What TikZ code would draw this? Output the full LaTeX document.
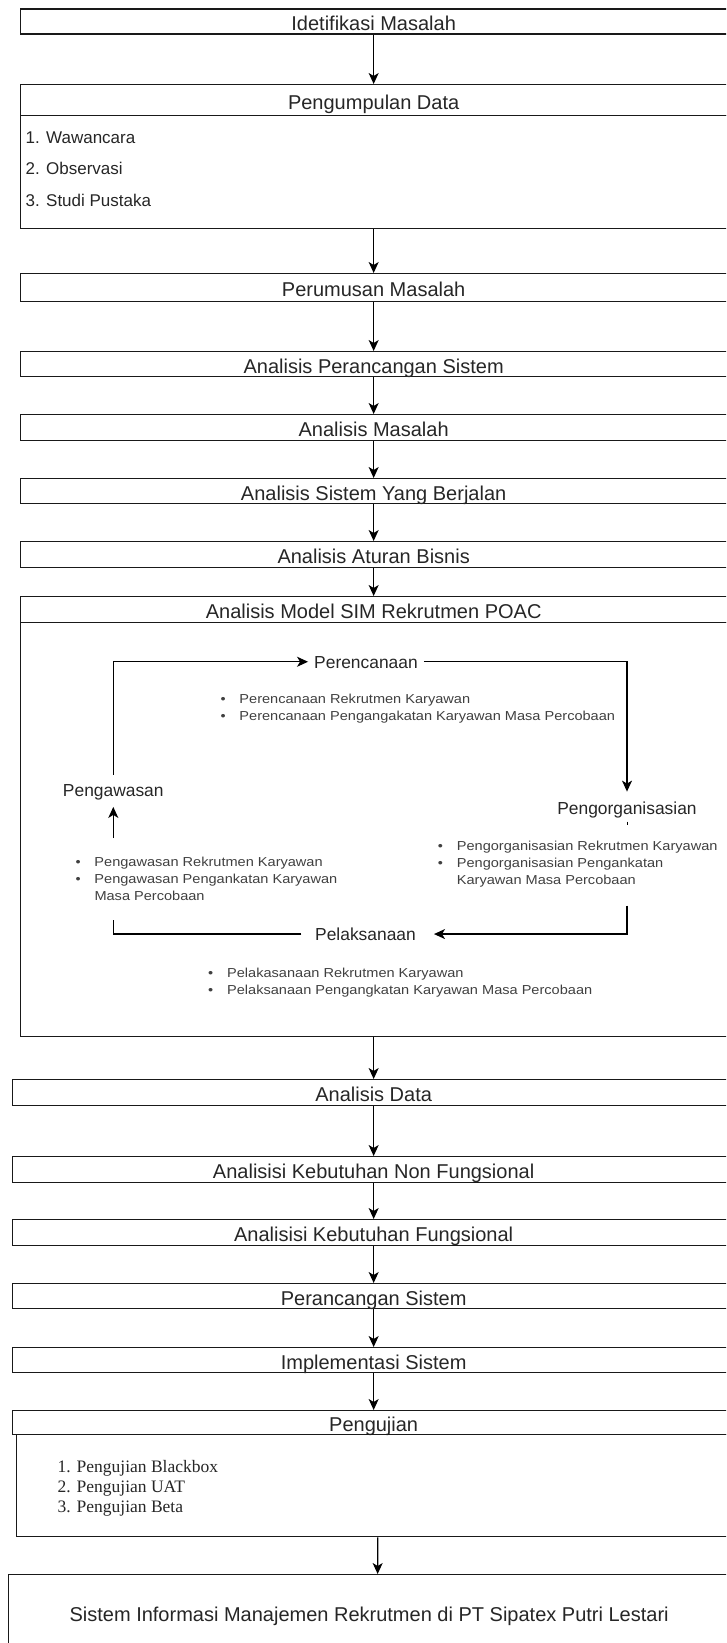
\documentclass[tikz,border=0pt]{standalone}
\usepackage{fontspec}
\setmainfont{Liberation Sans}
\newfontfamily\widesans[FakeStretch=1.12]{Liberation Sans}
\newfontfamily\serifnm{Liberation Serif}
\usetikzlibrary{arrows.meta}
\newcommand\bulitem{\makebox[19pt][l]{•}}
\begin{document}
\begin{tikzpicture}[x=1pt,y=-1pt,
  box/.style={draw=black!90, line width=1.3pt, rectangle, inner sep=0pt, anchor=north west,
    font=\fontsize{20}{24}\selectfont, text=black!85, text height=18pt, text depth=0pt},
  arr/.style={-{Stealth[length=11pt,width=10pt,inset=3pt]}, line width=1.3pt, draw=black},
  ln/.style={line width=1.3pt, draw=black},
  lp/.style={inner sep=0pt, font=\fontsize{17.4}{20}\selectfont, text=black!85, text height=12.5pt, text depth=0pt},
  bul/.style={inner sep=0pt, anchor=base west, font=\widesans\fontsize{13}{17}\selectfont, text=black!75},
  itm/.style={inner sep=0pt, anchor=base west, font=\fontsize{17}{20}\selectfont, text=black!85},
  sitm/.style={inner sep=0pt, anchor=base west, font=\serifnm\fontsize{17.5}{20}\selectfont, text=black!85},
]
\useasboundingbox (0,0) rectangle (727,1643);
\clip (0,0) rectangle (726,1643);

% main column
\node[box, minimum width=707pt, minimum height=25pt] (b1) at (19.5,8.3) {Idetifikasi Masalah};
\node[box, minimum width=707pt, minimum height=31pt] (b2h) at (19.5,84) {Pengumpulan Data};
\node[box, minimum width=707pt, minimum height=113pt] (b2b) at (19.5,115) {};
\node[itm] (i1) at (25.5,143.3) {1. Wawancara};
\node[itm] (i2) at (25.5,174) {2. Observasi};
\node[itm] (i3) at (25.5,206.7) {3. Studi Pustaka};
\node[box, minimum width=707pt, minimum height=28pt] (b3) at (19.5,273) {Perumusan Masalah};
\node[box, minimum width=707pt, minimum height=25pt] (b4) at (19.5,351) {Analisis Perancangan Sistem};
\node[box, minimum width=707pt, minimum height=26pt] (b5) at (19.5,414) {Analisis Masalah};
\node[box, minimum width=707pt, minimum height=25pt] (b6) at (19.5,478) {Analisis Sistem Yang Berjalan};
\node[box, minimum width=707pt, minimum height=26pt] (b7) at (19.5,541) {Analisis Aturan Bisnis};
\node[box, minimum width=707pt, minimum height=26pt] (b8h) at (19.5,596) {Analisis Model SIM Rekrutmen POAC};
\node[box, minimum width=707pt, minimum height=414pt] (b8b) at (19.5,622) {};
\node[box, minimum width=722.8pt, minimum height=26pt] (b9) at (11.6,1079) {Analisis Data};
\node[box, minimum width=722.8pt, minimum height=26pt] (b10) at (11.6,1156) {Analisisi Kebutuhan Non Fungsional};
\node[box, minimum width=722.8pt, minimum height=26pt] (b11) at (11.6,1219) {Analisisi Kebutuhan Fungsional};
\node[box, minimum width=722.8pt, minimum height=25pt] (b12) at (11.6,1283) {Perancangan Sistem};
\node[box, minimum width=722.8pt, minimum height=25pt] (b13) at (11.6,1347) {Implementasi Sistem};
\node[box, minimum width=722pt, minimum height=24pt] (b14h) at (12,1410) {Pengujian};
\node[box, minimum width=714.6pt, minimum height=102pt] (b14b) at (15.7,1434) {};
\node[sitm] (s1) at (57.5,1472.7) {1. Pengujian Blackbox};
\node[sitm] (s2) at (57.5,1492.7) {2. Pengujian UAT};
\node[sitm] (s3) at (57.5,1512.7) {3. Pengujian Beta};
\node[box, minimum width=721.2pt, minimum height=76pt] (fin) at (7.9,1574) {Sistem Informasi Manajemen Rekrutmen di PT Sipatex Putri Lestari};

\draw[arr] (b1.south) -- (b2h.north);
\draw[arr] (b2b.south) -- (b3.north);
\draw[arr] (b3.south) -- (b4.north);
\draw[arr] (b4.south) -- (b5.north);
\draw[arr] (b5.south) -- (b6.north);
\draw[arr] (b6.south) -- (b7.north);
\draw[arr] (b7.south) -- (b8h.north);
\draw[arr] (b8b.south) -- (b9.north);
\draw[arr] (b9.south) -- (b10.north);
\draw[arr] (b10.south) -- (b11.north);
\draw[arr] (b11.south) -- (b12.north);
\draw[arr] (b12.south) -- (b13.north);
\draw[arr] (b13.south) -- (b14h.north);
\draw[arr] ([xshift=4pt]b14b.south) -- ([xshift=8.5pt]fin.north);

% POAC loop
\node[lp, anchor=base] (per) at (366,668) {Perencanaan};
\node[lp, anchor=base] (org) at (627,814.3) {Pengorganisasian};
\node[lp, anchor=base] (pel) at (365.5,940.3) {Pelaksanaan};
\node[lp, anchor=base] (peng) at (113.3,796) {Pengawasan};
\coordinate (orgout) at (627,905.7);
\coordinate (pelend) at (113.3,920);
\coordinate (pengin) at (113.3,838);

\draw[arr] ([yshift=8.5pt]peng.north) |- ([xshift=-6pt]per.west);
\draw[arr] ([xshift=6pt]per.east) -| ([yshift=10pt]org.north);
\draw[line width=0.8pt] ([yshift=-7pt]org.south) -- ([yshift=-10pt]org.south);
\draw[arr] (orgout) |- ([xshift=18pt]pel.east);
\draw[ln] ([xshift=-13.5pt]pel.west) -| (pelend);
\draw[arr] (pengin) -- ([yshift=-10.7pt]peng.south);

\node[bul] (perb) at (220.3,703.3) {\begin{tabular}[t]{@{}l@{}l@{}}
  \bulitem & Perencanaan Rekrutmen Karyawan\\
  \bulitem & Perencanaan Pengangakatan Karyawan Masa Percobaan
\end{tabular}};
\node[bul] (orgb) at (437.7,850.7) {\begin{tabular}[t]{@{}l@{}l@{}}
  \bulitem & Pengorganisasian Rekrutmen Karyawan\\
  \bulitem & Pengorganisasian Pengankatan\\
  & Karyawan Masa Percobaan
\end{tabular}};
\node[bul] (pengb) at (75.3,866) {\begin{tabular}[t]{@{}l@{}l@{}}
  \bulitem & Pengawasan Rekrutmen Karyawan\\
  \bulitem & Pengawasan Pengankatan Karyawan\\
  & Masa Percobaan
\end{tabular}};
\node[bul] (pelb) at (208,977.5) {\begin{tabular}[t]{@{}l@{}l@{}}
  \bulitem & Pelakasanaan Rekrutmen Karyawan\\
  \bulitem & Pelaksanaan Pengangkatan Karyawan Masa Percobaan
\end{tabular}};
\end{tikzpicture}
\end{document}
